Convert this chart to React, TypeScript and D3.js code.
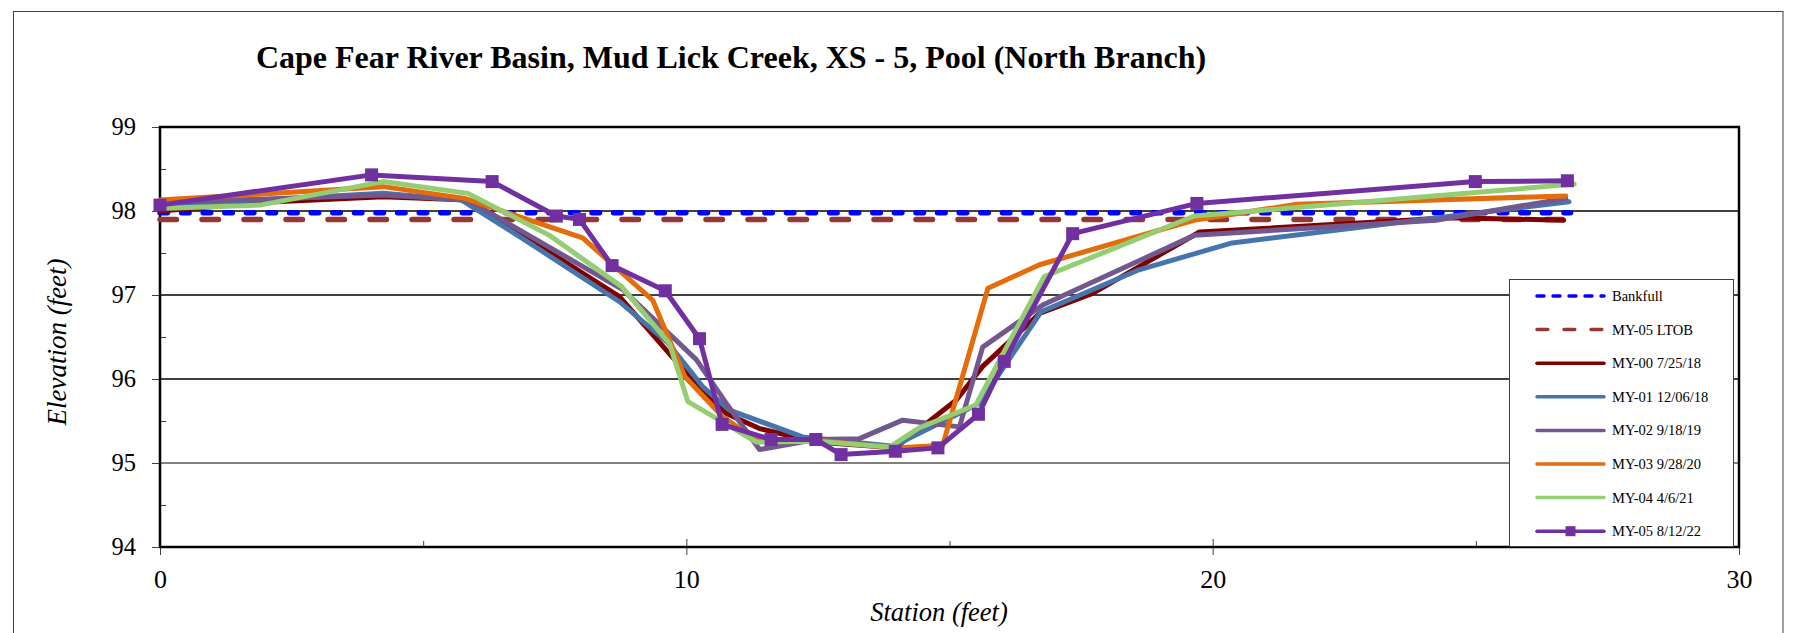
import React, { useEffect, useRef } from "react";
import * as d3 from "d3";

// cross-section survey data (station ft, elevation ft)
const bankfullX = [0, 26.8];
const bankfullY = [97.98, 97.98];
const ltobX = [0, 26.7];
const ltobY = [97.9, 97.9];

const my00X = [0, 1.9, 4.24, 5.85, 8.73, 10.03, 10.76, 11.39, 12.46, 13.97, 15.13, 15.63, 16.71, 17.72, 19.75, 24.55, 26.67];
const my00Y = [98.0, 98.1, 98.17, 98.13, 96.98, 96.05, 95.59, 95.41, 95.25, 95.18, 95.75, 96.15, 96.78, 97.02, 97.75, 97.92, 97.89];

const my01X = [0, 4.24, 5.73, 6.87, 8.73, 9.65, 10.31, 10.82, 12.21, 13.93, 15.57, 16.74, 18.6, 19.37, 20.37, 26.77];
const my01Y = [98.07, 98.21, 98.13, 97.68, 96.92, 96.43, 95.91, 95.63, 95.31, 95.2, 95.71, 96.8, 97.3, 97.44, 97.62, 98.11];

const my02X = [0, 4.24, 5.85, 8.8, 10.19, 10.76, 11.39, 12.46, 13.29, 14.11, 15.19, 15.63, 16.77, 19.65, 24.24, 26.71];
const my02Y = [98.1, 98.19, 98.13, 97.06, 96.23, 95.71, 95.16, 95.28, 95.29, 95.51, 95.43, 96.38, 96.88, 97.71, 97.89, 98.15];

const my03X = [0, 4.24, 5.79, 8.03, 9.36, 9.97, 10.69, 11.33, 12.46, 13.97, 14.87, 15.73, 16.71, 19.64, 21.6, 26.71];
const my03Y = [98.13, 98.29, 98.15, 97.68, 96.94, 96.03, 95.55, 95.27, 95.27, 95.18, 95.21, 97.08, 97.36, 97.89, 98.08, 98.18];

const my04X = [0, 1.9, 4.24, 5.85, 7.4, 8.77, 9.68, 10.03, 10.63, 11.33, 12.46, 13.86, 14.43, 15.5, 16.8, 19.65, 26.87];
const my04Y = [98.03, 98.07, 98.35, 98.21, 97.71, 97.1, 96.42, 95.73, 95.51, 95.25, 95.26, 95.19, 95.42, 95.69, 97.22, 97.94, 98.32];

const my05X = [0, 4.02, 6.31, 7.53, 7.97, 8.59, 9.6, 10.25, 10.68, 11.61, 12.46, 12.94, 13.97, 14.78, 15.55, 16.04, 17.34, 19.7, 24.99, 26.74];
const my05Y = [98.07, 98.43, 98.35, 97.94, 97.9, 97.35, 97.05, 96.48, 95.46, 95.28, 95.28, 95.1, 95.14, 95.18, 95.58, 96.21, 97.73, 98.09, 98.35, 98.36];

const xTicks = [0, 10, 20, 30];
const xMinorTicks = [5, 15, 25];
const yTicks = [94, 95, 96, 97, 98, 99];
const yMinorTicks = [94.5, 95.5, 96.5, 97.5, 98.5];
const gridValues = [96, 97, 98];

const title = "Cape Fear River Basin, Mud Lick Creek, XS - 5, Pool (North Branch)";
const serif = "'Liberation Serif', 'Times New Roman', Times, serif";

const series = [
  { label: "Bankfull", xs: bankfullX, ys: bankfullY, color: "#0000FF", width: 5.5, dash: "7.5 14.1", legDash: "7 9", marker: false },
  { label: "MY-05 LTOB", xs: ltobX, ys: ltobY, color: "#953735", width: 5.5, dash: "16.5 25.5", legDash: "10.8 16.2", marker: false },
  { label: "MY-00 7/25/18", xs: my00X, ys: my00Y, color: "#800000", width: 5, dash: null, legDash: null, marker: false },
  { label: "MY-01 12/06/18", xs: my01X, ys: my01Y, color: "#4675AE", width: 5, dash: null, legDash: null, marker: false },
  { label: "MY-02 9/18/19", xs: my02X, ys: my02Y, color: "#71588F", width: 5, dash: null, legDash: null, marker: false },
  { label: "MY-03 9/28/20", xs: my03X, ys: my03Y, color: "#E46C0A", width: 5, dash: null, legDash: null, marker: false },
  { label: "MY-04 4/6/21", xs: my04X, ys: my04Y, color: "#95CD72", width: 5, dash: null, legDash: null, marker: false },
  { label: "MY-05 8/12/22", xs: my05X, ys: my05Y, color: "#7030A0", width: 5, dash: null, legDash: null, marker: true },
];

const W = 1793;
const H = 633;
const plot = { left: 160, right: 1739, top: 127, bottom: 547 };

export default function App() {
  const ref = useRef<SVGSVGElement>(null);

  useEffect(() => {
    const svg = d3.select(ref.current);
    svg.selectAll("*").remove();

    const x = d3.scaleLinear().domain([0, 30]).range([plot.left, plot.right]);
    const y = d3.scaleLinear().domain([94, 99]).range([plot.bottom, plot.top]);

    svg.append("rect").attr("width", W).attr("height", H).attr("fill", "#fff");
    // outer chart border
    svg
      .append("rect")
      .attr("x", 13.5)
      .attr("y", 11.5)
      .attr("width", 1783 - 13.5)
      .attr("height", 700)
      .attr("fill", "none")
      .attr("stroke", "#404040")
      .attr("stroke-width", 1);

    svg
      .append("text")
      .attr("x", 731)
      .attr("y", 68)
      .attr("text-anchor", "middle")
      .attr("font-family", serif)
      .attr("font-weight", "bold")
      .attr("font-size", 32)
      .text(title);

    // gridlines
    svg
      .selectAll("line.grid")
      .data(gridValues)
      .enter()
      .append("line")
      .attr("class", "grid")
      .attr("x1", plot.left)
      .attr("x2", plot.right)
      .attr("y1", (d) => y(d))
      .attr("y2", (d) => y(d))
      .attr("stroke", "#000")
      .attr("stroke-width", 1.3);
    svg
      .append("line")
      .attr("x1", plot.left)
      .attr("x2", plot.right)
      .attr("y1", y(95))
      .attr("y2", y(95))
      .attr("stroke", "#808080")
      .attr("stroke-width", 2);

    // y axis
    const yAxis = svg
      .append("g")
      .attr("transform", `translate(${plot.left},0)`)
      .call(d3.axisLeft(y).tickValues(yTicks).tickSize(8).tickPadding(16).tickFormat(d3.format("d")));
    yAxis.select(".domain").remove();
    yAxis.selectAll("line").attr("stroke", "#404040");
    yAxis.selectAll("text").attr("font-family", serif).attr("font-size", 24.5).attr("fill", "#000");

    const yMinor = svg
      .append("g")
      .attr("transform", `translate(${plot.left},0)`)
      .call(d3.axisRight(y).tickValues(yMinorTicks).tickSize(6).tickFormat(() => ""));
    yMinor.select(".domain").remove();
    yMinor.selectAll("line").attr("stroke", "#404040");

    // x axis
    const xAxis = svg
      .append("g")
      .attr("transform", `translate(0,${plot.bottom})`)
      .call(d3.axisBottom(x).tickValues(xTicks).tickSize(8).tickFormat(d3.format("d")));
    xAxis.select(".domain").remove();
    xAxis.selectAll("line").attr("y1", -8).attr("y2", 8).attr("stroke", "#404040");
    xAxis
      .selectAll("text")
      .attr("y", 41)
      .attr("dy", null)
      .attr("font-family", serif)
      .attr("font-size", 26)
      .attr("fill", "#000");

    const xMinor = svg
      .append("g")
      .attr("transform", `translate(0,${plot.bottom})`)
      .call(d3.axisTop(x).tickValues(xMinorTicks).tickSize(6).tickFormat(() => ""));
    xMinor.select(".domain").remove();
    xMinor.selectAll("line").attr("stroke", "#404040");

    // plot frame
    svg
      .append("rect")
      .attr("x", plot.left)
      .attr("y", plot.top)
      .attr("width", plot.right - plot.left)
      .attr("height", plot.bottom - plot.top)
      .attr("fill", "none")
      .attr("stroke", "#000")
      .attr("stroke-width", 2.5);

    // axis titles
    svg
      .append("text")
      .attr("x", 939)
      .attr("y", 621)
      .attr("text-anchor", "middle")
      .attr("font-family", serif)
      .attr("font-style", "italic")
      .attr("font-size", 26.5)
      .text("Station (feet)");
    svg
      .append("text")
      .attr("transform", "translate(66,342) rotate(-90)")
      .attr("text-anchor", "middle")
      .attr("font-family", serif)
      .attr("font-style", "italic")
      .attr("font-size", 27)
      .text("Elevation (feet)");

    const line = d3
      .line<[number, number]>()
      .x((d) => x(d[0]))
      .y((d) => y(d[1]));

    series.forEach((s) => {
      const pts: [number, number][] = s.xs.map((v, i) => [v, s.ys[i]]);
      svg
        .append("path")
        .datum(pts)
        .attr("d", line)
        .attr("fill", "none")
        .attr("stroke", s.color)
        .attr("stroke-width", s.width)
        .attr("stroke-linejoin", "round")
        .attr("stroke-linecap", "round")
        .attr("stroke-dasharray", s.dash);
      if (s.marker) {
        svg
          .selectAll(null)
          .data(pts)
          .enter()
          .append("rect")
          .attr("x", (d) => x(d[0]) - 6.5)
          .attr("y", (d) => y(d[1]) - 6.5)
          .attr("width", 13)
          .attr("height", 13)
          .attr("fill", s.color);
      }
    });

    // legend
    const leg = svg.append("g");
    leg
      .append("rect")
      .attr("x", 1509.5)
      .attr("y", 279.5)
      .attr("width", 224)
      .attr("height", 267)
      .attr("fill", "#fff")
      .attr("stroke", "#404040")
      .attr("stroke-width", 1);
    series.forEach((s, i) => {
      const cy = 296 + i * 33.6;
      leg
        .append("line")
        .attr("x1", 1537)
        .attr("x2", 1604)
        .attr("y1", cy)
        .attr("y2", cy)
        .attr("stroke", s.color)
        .attr("stroke-width", 3.5)
        .attr("stroke-linecap", "round")
        .attr("stroke-dasharray", s.legDash);
      if (s.marker) {
        leg
          .append("rect")
          .attr("x", 1570.5 - 5)
          .attr("y", cy - 5)
          .attr("width", 10)
          .attr("height", 10)
          .attr("fill", s.color);
      }
      leg
        .append("text")
        .attr("x", 1612)
        .attr("y", cy)
        .attr("dy", "0.35em")
        .attr("font-family", serif)
        .attr("font-size", 14.5)
        .text(s.label);
    });
  }, []);

  return (
    <svg
      ref={ref}
      width={W}
      height={H}
      style={{ position: "absolute", left: 0, top: 0, display: "block" }}
    />
  );
}
